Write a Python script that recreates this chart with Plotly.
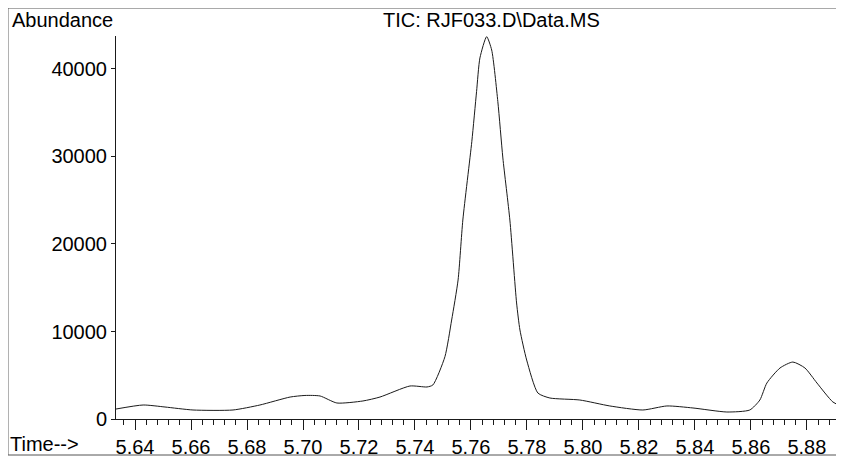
"""
TIC chromatogram, RJF033.D - redrawn with plotly.
"""

import plotly.graph_objects as go

# retention time (min) and abundance
time_min = [
    5.6332, 5.6429, 5.6507, 5.6607, 5.6750, 5.6846, 5.6954, 5.7007,
    5.7061, 5.7121, 5.7214, 5.7275, 5.7382, 5.7443, 5.7464, 5.7507,
    5.7531, 5.7554, 5.7571, 5.7603, 5.7620, 5.7632, 5.7656, 5.7674,
    5.7696, 5.7714, 5.7739, 5.7763, 5.7775, 5.7799, 5.7839, 5.7882,
    5.7989, 5.8096, 5.8214, 5.8300, 5.8393, 5.8514, 5.8596, 5.8632,
    5.8657, 5.8704, 5.8750, 5.8793, 5.8836, 5.8893, 5.8929,
]
abundance = [
    1140, 1600, 1370, 1030, 1030, 1600, 2510, 2690,
    2630, 1830, 2060, 2510, 3770, 3660, 3890, 7120,
    11310, 15890, 22740, 31690, 37410, 41260, 43690, 42170,
    36270, 29830, 22740, 13260, 10170, 6740, 2970, 2400,
    2170, 1490, 1030, 1490, 1260, 800, 1030, 2170,
    4110, 5830, 6510, 5830, 4110, 1940, 1370,
]

x_range = [5.6332, 5.8929]
y_range = [0, 43770]

FONT = "Liberation Sans, Arial, sans-serif"
INK = "#1a1a1a"

fig = go.Figure()
fig.add_trace(go.Scatter(
    x=time_min, y=abundance, mode="lines",
    line=dict(color=INK, width=1, shape="spline", smoothing=0.6),
    hoverinfo="skip", showlegend=False,
))

# the page body keeps its 8px margin, so the figure is 8px smaller
fig.update_layout(
    width=836, height=451,
    margin=dict(l=108, r=1, t=28, b=40),
    paper_bgcolor="white", plot_bgcolor="white",
    font=dict(family=FONT, size=20, color="black"),
    xaxis=dict(
        range=x_range, showgrid=False, zeroline=False,
        showline=True, linecolor=INK, linewidth=1,
        ticks="outside", ticklen=10, tickcolor=INK, tickwidth=1,
        tick0=5.64, dtick=0.02, tickformat=".2f",
        minor=dict(ticks="outside", ticklen=5, tickcolor=INK,
                   tick0=5.64, dtick=0.004, showgrid=False),
    ),
    yaxis=dict(
        range=y_range, showgrid=False, zeroline=False,
        showline=True, linecolor=INK, linewidth=1,
        ticks="outside", ticklen=4, tickcolor=INK, tickwidth=1,
        dtick=10000, tickformat="d",
    ),
)

# frame of the printed page
frame = dict(type="line", xref="paper", yref="paper",
             line=dict(color="#555555", width=1))
fig.add_shape(x0=-0.1486, x1=1.01, y0=1.0731, y1=1.0731, **frame)
fig.add_shape(x0=-0.1486, x1=-0.1486, y0=1.0731, y1=-0.094, **frame)
fig.add_shape(x0=-0.1486, x1=1.01, y0=-0.094, y1=-0.094, **frame)

fig.add_annotation(text="Abundance", xref="paper", yref="paper",
                   x=-0.1458, y=1.0417, xanchor="left", yanchor="middle",
                   showarrow=False)
fig.add_annotation(text="TIC: RJF033.D\\Data.MS", xref="paper", yref="paper",
                   x=0.517, y=1.0417, xanchor="center", yanchor="middle",
                   showarrow=False)
fig.add_annotation(text="Time-->", xref="paper", yref="paper",
                   x=-0.1486, y=-0.064, xanchor="left", yanchor="middle",
                   showarrow=False)

fig.write_html("out.html")
